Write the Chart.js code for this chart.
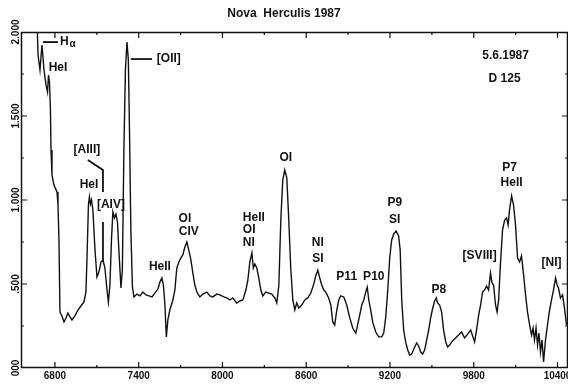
<!DOCTYPE html>
<html>
<head>
<meta charset="utf-8">
<script src="https://cdn.jsdelivr.net/npm/chart.js@4/dist/chart.umd.min.js"></script>
<style>
  html, body { margin: 0; padding: 0; background: #fff; }
  #wrap { width: 568px; height: 384px; }
</style>
</head>
<body>
<div id="wrap"><canvas id="spec" width="568" height="384"></canvas></div>
<script>
// wavelength (Angstrom) and relative flux
const wavelength = [
  6557, 6664, 6679, 6693, 6707, 6722, 6736, 6747, 6754, 6761,
  6768, 6772, 6779, 6793, 6815, 6822, 6829, 6836, 6850, 6865,
  6879, 6893, 6908, 6922, 6943, 6965, 6986, 7008, 7022, 7029,
  7040, 7047, 7054, 7062, 7072, 7087, 7101, 7115, 7130, 7144,
  7158, 7173, 7183, 7194, 7205, 7215, 7226, 7237, 7248, 7258,
  7273, 7283, 7294, 7305, 7316, 7326, 7333, 7344, 7355, 7366,
  7387, 7409, 7430, 7452, 7473, 7495, 7516, 7538, 7552, 7566,
  7577, 7588, 7598, 7609, 7623, 7645, 7659, 7673, 7688, 7702,
  7716, 7731, 7745, 7759, 7774, 7788, 7802, 7817, 7838, 7860,
  7888, 7910, 7931, 7960, 7981, 8010, 8031, 8053, 8074, 8102,
  8124, 8146, 8168, 8182, 8196, 8211, 8221, 8232, 8246, 8260,
  8275, 8289, 8310, 8332, 8353, 8375, 8389, 8404, 8418, 8432,
  8446, 8461, 8475, 8489, 8504, 8518, 8532, 8547, 8568, 8590,
  8611, 8633, 8654, 8668, 8683, 8697, 8711, 8726, 8740, 8761,
  8776, 8790, 8804, 8819, 8833, 8847, 8869, 8890, 8912, 8933,
  8955, 8976, 8998, 9012, 9026, 9037, 9048, 9062, 9076, 9098,
  9119, 9141, 9155, 9169, 9184, 9198, 9212, 9227, 9244, 9262,
  9273, 9284, 9298, 9312, 9327, 9341, 9355, 9377, 9391, 9405,
  9420, 9434, 9448, 9463, 9477, 9491, 9506, 9520, 9531, 9541,
  9556, 9570, 9584, 9599, 9613, 9627, 9647, 9670, 9691, 9713,
  9734, 9756, 9778, 9792, 9806, 9820, 9835, 9849, 9863, 9877,
  9892, 9906, 9920, 9931, 9942, 9956, 9967, 9978, 9992, 10006,
  10021, 10035, 10046, 10056, 10071, 10085, 10099, 10114, 10128, 10142,
  10157, 10171, 10185, 10200, 10214, 10225, 10235, 10246, 10257, 10267,
  10278, 10289, 10300, 10314, 10328, 10343, 10357, 10371, 10386, 10397,
  10407, 10421, 10436, 10450, 10464
];
const flux = [
  2.6, 2.3, 1.863, 1.774, 1.923, 1.774, 1.685, 1.643, 1.744, 1.702,
  1.536, 1.298, 1.149, 1.089, 1.048, 0.970, 0.762, 0.333, 0.310, 0.274,
  0.298, 0.327, 0.304, 0.286, 0.310, 0.345, 0.369, 0.393, 0.452, 0.631,
  0.970, 1.018, 0.976, 1.000, 0.940, 0.702, 0.542, 0.571, 0.631, 0.643,
  0.595, 0.464, 0.393, 0.494, 0.762, 0.929, 0.893, 0.917, 0.869, 0.702,
  0.476, 0.583, 1.298, 1.774, 1.940, 1.833, 1.476, 0.821, 0.482, 0.423,
  0.440, 0.429, 0.452, 0.435, 0.429, 0.423, 0.446, 0.470, 0.512, 0.536,
  0.494, 0.375, 0.185, 0.286, 0.345, 0.405, 0.464, 0.595, 0.631, 0.655,
  0.673, 0.720, 0.750, 0.702, 0.643, 0.565, 0.494, 0.452, 0.423, 0.440,
  0.452, 0.429, 0.423, 0.440, 0.435, 0.423, 0.417, 0.405, 0.417, 0.387,
  0.399, 0.405, 0.464, 0.524, 0.631, 0.685, 0.595, 0.619, 0.595, 0.536,
  0.464, 0.429, 0.452, 0.446, 0.440, 0.417, 0.387, 0.494, 0.881, 1.119,
  1.179, 1.131, 0.881, 0.595, 0.405, 0.345, 0.387, 0.357, 0.375, 0.405,
  0.417, 0.446, 0.500, 0.548, 0.583, 0.536, 0.494, 0.464, 0.452, 0.417,
  0.375, 0.274, 0.256, 0.345, 0.405, 0.429, 0.423, 0.375, 0.298, 0.238,
  0.208, 0.286, 0.375, 0.405, 0.452, 0.482, 0.405, 0.345, 0.274, 0.214,
  0.185, 0.185, 0.208, 0.298, 0.464, 0.655, 0.762, 0.798, 0.815, 0.786,
  0.702, 0.405, 0.226, 0.155, 0.107, 0.077, 0.083, 0.125, 0.149, 0.131,
  0.095, 0.083, 0.107, 0.167, 0.226, 0.298, 0.357, 0.399, 0.417, 0.387,
  0.375, 0.333, 0.226, 0.155, 0.125, 0.137, 0.161, 0.179, 0.196, 0.214,
  0.179, 0.202, 0.226, 0.190, 0.155, 0.226, 0.315, 0.375, 0.452, 0.464,
  0.488, 0.464, 0.565, 0.506, 0.494, 0.375, 0.333, 0.405, 0.631, 0.821,
  0.881, 0.893, 0.851, 0.940, 1.024, 0.970, 0.851, 0.655, 0.631, 0.667,
  0.554, 0.435, 0.333, 0.256, 0.196, 0.238, 0.167, 0.238, 0.137, 0.208,
  0.095, 0.167, 0.036, 0.167, 0.256, 0.345, 0.405, 0.464, 0.536, 0.494,
  0.476, 0.417, 0.435, 0.357, 0.256
];

const xTicks = [6800, 7400, 8000, 8600, 9200, 9800, 10400];
const yTicks = [0, 0.5, 1, 1.5, 2];
const yTickLabels = ['000', '.500', '1.000', '1.500', '2.000'];

// line identifications, placed in data units
const notes = [
  { text: 'H', sub: 'α', at: [6836, 1.94], align: 'left' },
  { text: 'HeI', at: [6822, 1.786] },
  { text: '[OII]', at: [7616, 1.839] },
  { text: '[AIII]', at: [7029, 1.298] },
  { text: 'HeI', at: [7044, 1.089] },
  { text: '[AIV]', at: [7201, 0.970] },
  { text: 'HeII', at: [7552, 0.601] },
  { text: 'OI', at: [7731, 0.887] },
  { text: 'CIV', at: [7759, 0.810] },
  { text: 'HeII', at: [8146, 0.893], align: 'left' },
  { text: 'OI', at: [8146, 0.821], align: 'left' },
  { text: 'NI', at: [8146, 0.744], align: 'left' },
  { text: 'OI', at: [8454, 1.250] },
  { text: 'NI', at: [8683, 0.744] },
  { text: 'SI', at: [8683, 0.649] },
  { text: 'P11', at: [8890, 0.542] },
  { text: 'P10', at: [9084, 0.542] },
  { text: 'P9', at: [9234, 0.982] },
  { text: 'SI', at: [9234, 0.881] },
  { text: 'P8', at: [9549, 0.464] },
  { text: '[SVIII]', at: [9842, 0.667] },
  { text: 'P7', at: [10057, 1.190] },
  { text: 'HeII', at: [10071, 1.101] },
  { text: '[NI]', at: [10357, 0.625] },
  { text: '5.6.1987', at: [10028, 1.857] },
  { text: 'D 125', at: [10021, 1.720] }
];
const leaders = [
  [[6714, 1.94], [6822, 1.94]],
  [[7344, 1.839], [7495, 1.839]],
  [[7036, 1.238], [7144, 1.179], [7144, 1.048]],
  [[7144, 0.869], [7144, 0.631]]
];

const FONT = "'Liberation Sans', Arial, sans-serif";
const INK = '#111';

const framePlugin = {
  id: 'frame',
  afterDraw(chart) {
    const { ctx, chartArea: a, scales: { x, y } } = chart;
    ctx.save();
    ctx.strokeStyle = INK;
    ctx.lineWidth = 1.5;
    ctx.strokeRect(a.left + 0.5, a.top + 0.5, a.right - a.left - 1, a.bottom - a.top - 1);

    // inward ticks on all four sides
    ctx.lineWidth = 1.2;
    ctx.beginPath();
    for (let v = 6500; v <= 10700; v += 300) {
      if (v < x.min || v > x.max) continue;
      const px = x.getPixelForValue(v);
      const len = xTicks.includes(v) ? 6 : 3;
      ctx.moveTo(px, a.bottom); ctx.lineTo(px, a.bottom - len);
      ctx.moveTo(px, a.top); ctx.lineTo(px, a.top + len);
    }
    for (let v = 0.25; v < 2; v += 0.25) {
      const py = y.getPixelForValue(v);
      const len = yTicks.includes(v) ? 6 : 3;
      ctx.moveTo(a.left, py); ctx.lineTo(a.left + len, py);
      ctx.moveTo(a.right, py); ctx.lineTo(a.right - len, py);
    }
    ctx.stroke();

    // leader lines
    ctx.lineWidth = 1.8;
    leaders.forEach(pts => {
      ctx.beginPath();
      pts.forEach(([lx, ly], i) => {
        const px = x.getPixelForValue(lx), py = y.getPixelForValue(ly);
        if (i === 0) ctx.moveTo(px, py); else ctx.lineTo(px, py);
      });
      ctx.stroke();
    });

    // labels
    ctx.fillStyle = INK;
    ctx.textBaseline = 'middle';
    ctx.font = 'bold 12px ' + FONT;
    notes.forEach(n => {
      const px = x.getPixelForValue(n.at[0]), py = y.getPixelForValue(n.at[1]);
      ctx.textAlign = n.align || 'center';
      ctx.fillText(n.text, px, py);
      if (n.sub) {
        const w = ctx.measureText(n.text).width;
        ctx.font = 'bold 10px ' + FONT;
        ctx.textAlign = 'left';
        ctx.fillText(n.sub, px + w + 1, py + 2);
        ctx.font = 'bold 12px ' + FONT;
      }
    });
    ctx.restore();
  }
};

new Chart(document.getElementById('spec'), {
  type: 'line',
  data: {
    datasets: [{
      data: wavelength.map((w, i) => ({ x: w, y: flux[i] })),
      borderColor: INK,
      borderWidth: 1.4,
      pointRadius: 0,
      tension: 0,
      fill: false
    }]
  },
  options: {
    responsive: false,
    devicePixelRatio: 1,
    animation: false,
    layout: { padding: 0 },
    plugins: {
      legend: { display: false },
      tooltip: { enabled: false },
      title: {
        display: true,
        text: 'Nova  Herculis 1987',
        color: INK,
        font: { family: FONT, size: 12, weight: 'bold' },
        padding: { top: 6, bottom: 11.6 }
      }
    },
    scales: {
      x: {
        type: 'linear',
        min: 6557,
        max: 10475,
        afterBuildTicks: s => { s.ticks = xTicks.map(v => ({ value: v })); },
        afterFit: s => { s.height = 16; s.paddingLeft = 0; s.paddingRight = 0; },
        grid: { display: false, drawTicks: false },
        border: { display: false },
        ticks: {
          autoSkip: false, minRotation: 0, maxRotation: 0, padding: 2,
          color: INK, font: { family: FONT, size: 10, weight: 'bold' },
          callback: v => String(v)
        }
      },
      y: {
        min: 0,
        max: 2,
        afterBuildTicks: s => { s.ticks = yTicks.map(v => ({ value: v })); },
        afterFit: s => { s.width = 21; s.paddingTop = 0; s.paddingBottom = 0; },
        grid: { display: false, drawTicks: false },
        border: { display: false },
        ticks: {
          minRotation: 90, maxRotation: 90, crossAlign: 'center', padding: -8,
          color: INK, font: { family: FONT, size: 10, weight: 'bold' },
          callback: v => yTickLabels[yTicks.indexOf(v)]
        }
      }
    }
  },
  plugins: [framePlugin]
});
</script>
</body>
</html>
